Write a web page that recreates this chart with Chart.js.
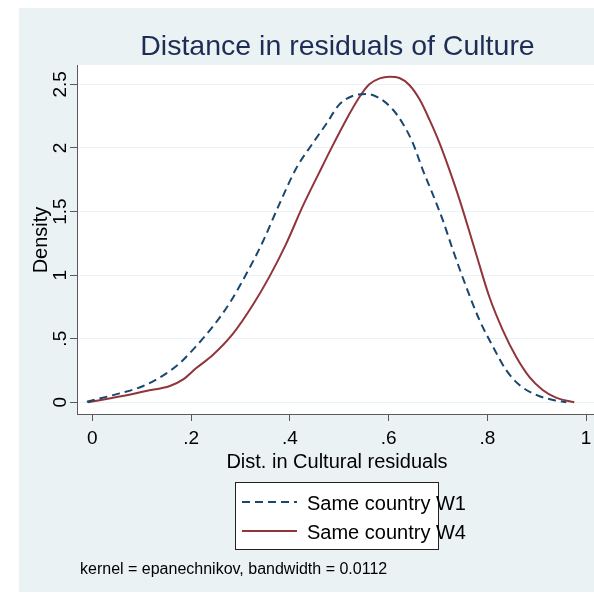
<!DOCTYPE html>
<html>
<head>
<meta charset="utf-8">
<script src="https://cdn.jsdelivr.net/npm/chart.js@4.4.1/dist/chart.umd.min.js"></script>
<style>
    body { margin: 0; background: #ffffff; }
    #wrap { width: 594px; height: 593px; }
</style>
</head>
<body>
<div id="wrap"><canvas id="densityChart" width="594" height="593"></canvas></div>
<script>
// Kernel density (x = distance, y = density)
const W1_X = [-0.011, 0.055, 0.103, 0.15, 0.177, 0.21, 0.244, 0.278, 0.312, 0.345, 0.379, 0.413, 0.447, 0.474, 0.5, 0.528, 0.555, 0.582, 0.609, 0.629, 0.649, 0.669, 0.689, 0.71, 0.73, 0.757, 0.784, 0.811, 0.838, 0.865, 0.899, 0.933, 0.96]
const W1_Y = [0.005, 0.07, 0.128, 0.228, 0.307, 0.44, 0.595, 0.78, 1.01, 1.26, 1.56, 1.84, 2.04, 2.19, 2.34, 2.41, 2.424, 2.39, 2.30, 2.19, 2.04, 1.83, 1.64, 1.43, 1.20, 0.91, 0.647, 0.44, 0.254, 0.136, 0.058, 0.018, 0]
const W4_X = [-0.009, 0.055, 0.109, 0.157, 0.184, 0.21, 0.244, 0.285, 0.325, 0.359, 0.393, 0.426, 0.46, 0.487, 0.514, 0.541, 0.561, 0.582, 0.602, 0.622, 0.642, 0.663, 0.683, 0.703, 0.723, 0.744, 0.777, 0.804, 0.831, 0.858, 0.885, 0.912, 0.939, 0.976]
const W4_Y = [0, 0.045, 0.089, 0.128, 0.18, 0.267, 0.372, 0.54, 0.765, 0.99, 1.25, 1.54, 1.81, 2.02, 2.22, 2.40, 2.50, 2.547, 2.56, 2.55, 2.495, 2.38, 2.22, 2.04, 1.83, 1.59, 1.17, 0.83, 0.57, 0.36, 0.20, 0.097, 0.037, 0]

const SERIES_NAMES = ["Same country W1", "Same country W4"]
const X_TICKS = [0, 0.2, 0.4, 0.6, 0.8, 1]
const X_TICK_LABELS = ["0", ".2", ".4", ".6", ".8", "1"]
const Y_TICKS = [0, 0.5, 1, 1.5, 2, 2.5]
const Y_TICK_LABELS = ["0", ".5", "1", "1.5", "2", "2.5"]

const TITLE = "Distance in residuals of Culture"
const X_TITLE = "Dist. in Cultural residuals"
const Y_TITLE = "Density"
const NOTE = "kernel = epanechnikov, bandwidth = 0.0112"

const FONT = '"Liberation Sans", Arial, sans-serif'
const BG = '#eaf2f3'
const AXIS = '#5a5a5a'

Chart.defaults.font.family = FONT

// zip two arrays into {x, y} points
function toPoints(xs, ys) {
    return xs.map((x, i) => ({x: x, y: ys[i]}))
}

// Stata style backdrop: white margin, light blue-grey graph region, white plot region
const backdrop = {
    id: 'backdrop',
    beforeDraw(chart) {
        const ctx = chart.ctx
        const a = chart.chartArea
        ctx.save()
        ctx.fillStyle = '#ffffff'
        ctx.fillRect(0, 0, chart.width, chart.height)
        ctx.fillStyle = BG
        ctx.fillRect(19, 8, chart.width - 19, chart.height - 9)
        ctx.fillStyle = '#ffffff'
        ctx.fillRect(a.left, a.top, a.right - a.left, a.bottom - a.top)
        ctx.restore()
    }
}

// Titles, rotated y labels, legend box and note
const annotations = {
    id: 'annotations',
    afterDraw(chart) {
        const ctx = chart.ctx
        const yScale = chart.scales.y
        ctx.save()

        ctx.fillStyle = '#1e2d55'
        ctx.font = '28.5px ' + FONT
        ctx.textAlign = 'center'
        ctx.textBaseline = 'alphabetic'
        ctx.fillText(TITLE, 337.5, 55)

        ctx.fillStyle = '#000000'
        ctx.font = '20px ' + FONT
        ctx.fillText(X_TITLE, 337, 468)

        // y tick labels, reading upwards
        ctx.font = '19px ' + FONT
        for (let i = 0; i < Y_TICKS.length; i++) {
            const py = yScale.getPixelForValue(Y_TICKS[i])
            ctx.save()
            ctx.translate(65.5, py)
            ctx.rotate(-Math.PI / 2)
            ctx.fillText(Y_TICK_LABELS[i], 0, 0)
            ctx.restore()
        }

        ctx.save()
        ctx.font = '20px ' + FONT
        ctx.translate(47, 240)
        ctx.rotate(-Math.PI / 2)
        ctx.fillText(Y_TITLE, 0, 0)
        ctx.restore()

        // legend
        ctx.fillStyle = '#ffffff'
        ctx.fillRect(235, 482, 203, 67)
        ctx.strokeStyle = '#222222'
        ctx.lineWidth = 1
        ctx.strokeRect(235.5, 482.5, 203, 67)
        const rows = [502, 531]
        chart.data.datasets.forEach((ds, i) => {
            ctx.strokeStyle = ds.borderColor
            ctx.lineWidth = ds.borderWidth
            ctx.setLineDash(ds.borderDash || [])
            ctx.beginPath()
            ctx.moveTo(242, rows[i])
            ctx.lineTo(297, rows[i])
            ctx.stroke()
            ctx.setLineDash([])
            ctx.fillStyle = '#000000'
            ctx.font = '20px ' + FONT
            ctx.textAlign = 'left'
            ctx.fillText(ds.label, 307, rows[i] + 7.5)
        })

        ctx.font = '16px ' + FONT
        ctx.textAlign = 'left'
        ctx.fillText(NOTE, 80, 574)
        ctx.restore()
    }
}

window.onload = (event) => {
    const chartCanvas = document.getElementById('densityChart').getContext('2d')
    const chart = new Chart(chartCanvas, {
        type: 'line',
        data: {
            datasets: [{
                label: SERIES_NAMES[0],
                data: toPoints(W1_X, W1_Y),
                borderColor: '#1a476f',
                borderWidth: 2,
                borderDash: [8, 5],
                pointRadius: 0,
                fill: false,
                cubicInterpolationMode: 'monotone'
            }, {
                label: SERIES_NAMES[1],
                data: toPoints(W4_X, W4_Y),
                borderColor: '#90353b',
                borderWidth: 2,
                pointRadius: 0,
                fill: false,
                cubicInterpolationMode: 'monotone'
            }]
        },
        options: {
            responsive: false,
            animation: false,
            devicePixelRatio: 1,
            layout: {padding: {left: 0, right: 0, top: 65, bottom: 139}},
            plugins: {
                legend: {display: false},
                title: {display: false},
                tooltip: {enabled: false}
            },
            scales: {
                x: {
                    type: 'linear',
                    min: -0.031,
                    max: 1.016,
                    // fixed height, and let the plot run to the right edge
                    afterFit: (scale) => {
                        scale.height = 40
                        scale.paddingLeft = 0
                        scale.paddingRight = 0
                    },
                    afterBuildTicks: (scale) => { scale.ticks = X_TICKS.map((v) => ({value: v})) },
                    ticks: {
                        font: {size: 19},
                        color: '#000000',
                        padding: 6,
                        maxRotation: 0,
                        callback: (value, index) => X_TICK_LABELS[index]
                    },
                    grid: {drawOnChartArea: false, drawTicks: true, tickLength: 7, tickColor: AXIS},
                    border: {display: true, color: AXIS, width: 1}
                },
                y: {
                    type: 'linear',
                    min: -0.092,
                    max: 2.652,
                    afterFit: (scale) => { scale.width = 77 },
                    afterBuildTicks: (scale) => { scale.ticks = Y_TICKS.map((v) => ({value: v})) },
                    ticks: {display: false},
                    grid: {color: BG, lineWidth: 1, drawTicks: true, tickLength: 7, tickColor: AXIS},
                    border: {display: true, color: AXIS, width: 1}
                }
            }
        },
        plugins: [backdrop, annotations]
    })
}
</script>
</body>
</html>
